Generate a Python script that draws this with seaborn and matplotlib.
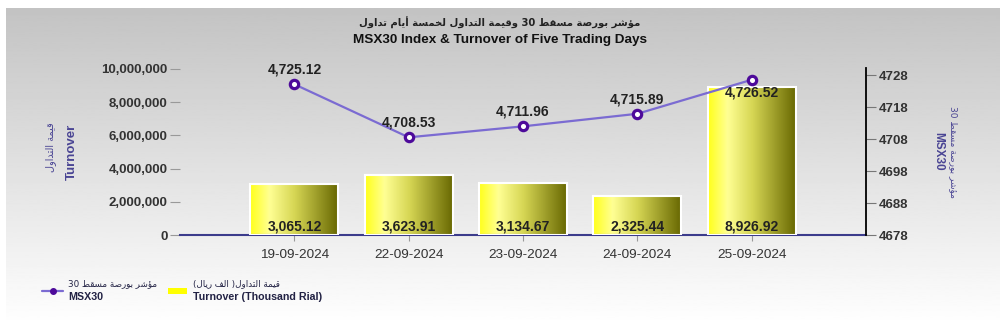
import re
import numpy as np
import matplotlib
matplotlib.use("Agg")
import matplotlib.pyplot as plt
import seaborn as sns
from matplotlib.colors import LinearSegmentedColormap
from matplotlib.ticker import FuncFormatter, FixedLocator
from matplotlib.lines import Line2D
from matplotlib.patches import Rectangle

# ---------------- data ----------------
dates = ["19-09-2024", "22-09-2024", "23-09-2024", "24-09-2024", "25-09-2024"]
turnover_thousand = [3065.12, 3623.91, 3134.67, 2325.44, 8926.92]
msx30_index = [4725.12, 4708.53, 4711.96, 4715.89, 4726.52]
left_ticks = [0, 2000000, 4000000, 6000000, 8000000, 10000000]
right_ticks = [4678, 4688, 4698, 4708, 4718, 4728]

title_ar = "مؤشر بورصة مسقط 30 وقيمة التداول لخمسة أيام تداول"
title_en = "MSX30 Index & Turnover of Five Trading Days"
ylab_left_ar = "قيمة التداول"
ylab_left_en = "Turnover"
ylab_right_ar = "مؤشر بورصة مسقط 30"
ylab_right_en = "MSX30"
leg_line_ar = "مؤشر بورصة مسقط 30"
leg_line_en = "MSX30"
leg_bar_ar = "قيمة التداول( الف ريال)"
leg_bar_en = "Turnover (Thousand Rial)"

# ---------------- minimal Arabic shaping (presentation forms + RTL order) ----------------
FORMS = {
    '\u0627': (0xFE8D, 0xFE8E, None, None),
    '\u0623': (0xFE83, 0xFE84, None, None),
    '\u0624': (0xFE85, 0xFE86, None, None),
    '\u0628': (0xFE8F, 0xFE90, 0xFE91, 0xFE92),
    '\u0629': (0xFE93, 0xFE94, None, None),
    '\u062A': (0xFE95, 0xFE96, 0xFE97, 0xFE98),
    '\u062E': (0xFEA5, 0xFEA6, 0xFEA7, 0xFEA8),
    '\u062F': (0xFEA9, 0xFEAA, None, None),
    '\u0631': (0xFEAD, 0xFEAE, None, None),
    '\u0633': (0xFEB1, 0xFEB2, 0xFEB3, 0xFEB4),
    '\u0634': (0xFEB5, 0xFEB6, 0xFEB7, 0xFEB8),
    '\u0635': (0xFEB9, 0xFEBA, 0xFEBB, 0xFEBC),
    '\u0637': (0xFEC1, 0xFEC2, 0xFEC3, 0xFEC4),
    '\u0641': (0xFED1, 0xFED2, 0xFED3, 0xFED4),
    '\u0642': (0xFED5, 0xFED6, 0xFED7, 0xFED8),
    '\u0644': (0xFEDD, 0xFEDE, 0xFEDF, 0xFEE0),
    '\u0645': (0xFEE1, 0xFEE2, 0xFEE3, 0xFEE4),
    '\u0648': (0xFEED, 0xFEEE, None, None),
    '\u064A': (0xFEF1, 0xFEF2, 0xFEF3, 0xFEF4),
}


def ar(s):
    out = []
    for i, ch in enumerate(s):
        if ch not in FORMS:
            out.append(ch)
            continue
        prev = s[i - 1] if i > 0 else ''
        nxt = s[i + 1] if i + 1 < len(s) else ''
        f = FORMS[ch]
        jp = prev in FORMS and FORMS[prev][2] is not None
        jn = f[2] is not None and nxt in FORMS
        if jp and jn:
            c = f[3]
        elif jp:
            c = f[1]
        elif jn:
            c = f[2]
        else:
            c = f[0]
        out.append(chr(c))
    rev = ''.join(out)[::-1]
    rev = re.sub(r'[0-9]+', lambda m: m.group(0)[::-1], rev)
    return rev.translate(str.maketrans('()', ')('))


# ---------------- style ----------------
sns.set_style("white")
plt.rcParams['font.family'] = ['Liberation Sans', 'DejaVu Sans']
AR_FONT = ['DejaVu Sans']
LAB_COL = '#4a4594'

fig = plt.figure(figsize=(10, 3.2), dpi=100)
fig.patch.set_facecolor('white')

# background gradient panel
bg = fig.add_axes([0.006, 0.0, 0.994, 1 - 8 / 320], zorder=-10)
grad_bg = np.linspace(0.995, 0.765, 256).reshape(-1, 1)
bg.imshow(grad_bg, aspect='auto', cmap='gray', vmin=0, vmax=1, extent=[0, 1, 0, 1], origin='lower')
bg.axis('off')

ax = fig.add_axes([0.18, 1 - 235 / 320, 0.866 - 0.18, 167 / 320])
ax.patch.set_alpha(0)

bar_vals = np.array(turnover_thousand) * 1000
sns.barplot(x=dates, y=bar_vals, ax=ax, color='yellow', width=0.77,
            edgecolor='white', linewidth=1.5, saturation=1)

bar_cmap = LinearSegmentedColormap.from_list(
    'bar', [(0.0, (1.0, 1.0, 0.1)), (0.22, (1.0, 1.0, 0.58)), (0.5, (0.84, 0.84, 0.33)),
            (1.0, (0.40, 0.40, 0.0))])
gradient = np.linspace(0, 1, 256).reshape(1, -1)
for p in list(ax.patches):
    x0, y0, w, h = p.get_x(), p.get_y(), p.get_width(), p.get_height()
    im = ax.imshow(gradient, extent=[x0, x0 + w, y0, y0 + h], aspect='auto',
                   cmap=bar_cmap, origin='lower', zorder=2)
    im.set_clip_path(p)
    p.set_facecolor('none')
    p.set_zorder(3)

ax.set_xlim(-1, len(dates))
ax.set_ylim(0, 10060000)
ax.yaxis.set_major_locator(FixedLocator(left_ticks))
ax.yaxis.set_major_formatter(FuncFormatter(lambda v, _: f"{int(v):,}"))
ax.set_xlabel('')
ax.set_ylabel('')
for s in ['top', 'right', 'left']:
    ax.spines[s].set_visible(False)
ax.spines['bottom'].set_color('#3c3c8c')
ax.spines['bottom'].set_linewidth(1.5)
ax.tick_params(axis='y', left=True, length=7, width=0.8, color='#999999', pad=2,
               labelsize=9.5, labelcolor='#333333')
for t in ax.get_yticklabels():
    t.set_fontweight('bold')
ax.tick_params(axis='x', bottom=True, length=4, width=0.8, color='#999999', pad=6,
               labelsize=9.7, labelcolor='#333333')

for i, v in enumerate(turnover_thousand):
    ax.text(i, 120000, f"{v:,.2f}", ha='center', va='bottom', fontsize=10,
            fontweight='bold', color='#222222', zorder=5)

# line on twin axis
ax2 = ax.twinx()
ax2.patch.set_alpha(0)
xs = np.arange(len(dates))
sns.lineplot(x=xs, y=msx30_index, ax=ax2, color='#7b6bd2', linewidth=1.6,
             marker='o', markersize=6, markerfacecolor='white',
             markeredgecolor='#4d0a9a', markeredgewidth=2.3)
ax2.set_ylim(4678, 4730.2)
ax2.yaxis.set_major_locator(FixedLocator(right_ticks))
ax2.yaxis.set_major_formatter(FuncFormatter(lambda v, _: f"{int(v)}"))
for s in ['top', 'left', 'bottom']:
    ax2.spines[s].set_visible(False)
ax2.spines['right'].set_color('black')
ax2.spines['right'].set_linewidth(1.3)
ax2.tick_params(axis='y', right=True, length=7, width=0.8, color='#777777', pad=2.5,
                labelsize=9.5, labelcolor='#333333')
for t in ax2.get_yticklabels():
    t.set_fontweight('bold')
ax2.set_xlim(-1, len(dates))
ax2.set_ylabel('')

label_offsets = [5.5, 5.5, 5.5, 5.5, -9]
for i, v in enumerate(msx30_index):
    off = label_offsets[i]
    ax2.annotate(f"{v:,.2f}", (i, v), xytext=(0, off), textcoords='offset points',
                 ha='center', va='bottom' if off > 0 else 'center', fontsize=10,
                 fontweight='bold', color='#222222', zorder=6)

# titles
fig.text(0.5, 1 - 23 / 320, ar(title_ar), ha='center', va='center', fontsize=7.2,
         fontweight='bold', family=AR_FONT, color='#222222')
fig.text(0.5, 1 - 39.5 / 320, title_en, ha='center', va='center', fontsize=9.7,
         fontweight='bold', color='#111111')

# axis labels
fig.text(51 / 1000, 1 - 147 / 320, ar(ylab_left_ar), rotation=90, ha='center', va='center',
         fontsize=7, family=AR_FONT, color=LAB_COL)
fig.text(72 / 1000, 1 - 152 / 320, ylab_left_en, rotation=90, ha='center', va='center',
         fontsize=9.5, fontweight='bold', color=LAB_COL)
fig.text(953 / 1000, 1 - 152 / 320, ar(ylab_right_ar), rotation=270, ha='center', va='center',
         fontsize=6.5, family=AR_FONT, color=LAB_COL)
fig.text(938 / 1000, 1 - 151 / 320, ylab_right_en, rotation=270, ha='center', va='center',
         fontsize=8.5, fontweight='bold', color=LAB_COL)

# legend
fig.add_artist(Line2D([42 / 1000, 63 / 1000], [1 - 291 / 320] * 2, color='#7b6bd2', lw=1.6))
fig.add_artist(Line2D([52.5 / 1000], [1 - 291 / 320], marker='o', markersize=4,
                      markerfacecolor='#4d0a9a', markeredgecolor='#4d0a9a'))
fig.text(68 / 1000, 1 - 284 / 320, ar(leg_line_ar), ha='left', va='center', fontsize=6.3,
         family=AR_FONT, color='#222244')
fig.text(68 / 1000, 1 - 296.5 / 320, leg_line_en, ha='left', va='center', fontsize=7.7,
         fontweight='bold', color='#222244')
fig.add_artist(Rectangle((168 / 1000, 1 - 294 / 320), 19 / 1000, 6 / 320,
                         facecolor='#ffff00', edgecolor='none', transform=fig.transFigure))
fig.text(193 / 1000, 1 - 284 / 320, ar(leg_bar_ar), ha='left', va='center', fontsize=6.3,
         family=AR_FONT, color='#222244')
fig.text(193 / 1000, 1 - 296.5 / 320, leg_bar_en, ha='left', va='center', fontsize=7.7,
         fontweight='bold', color='#222244')

fig.savefig('out.png', dpi=100)
